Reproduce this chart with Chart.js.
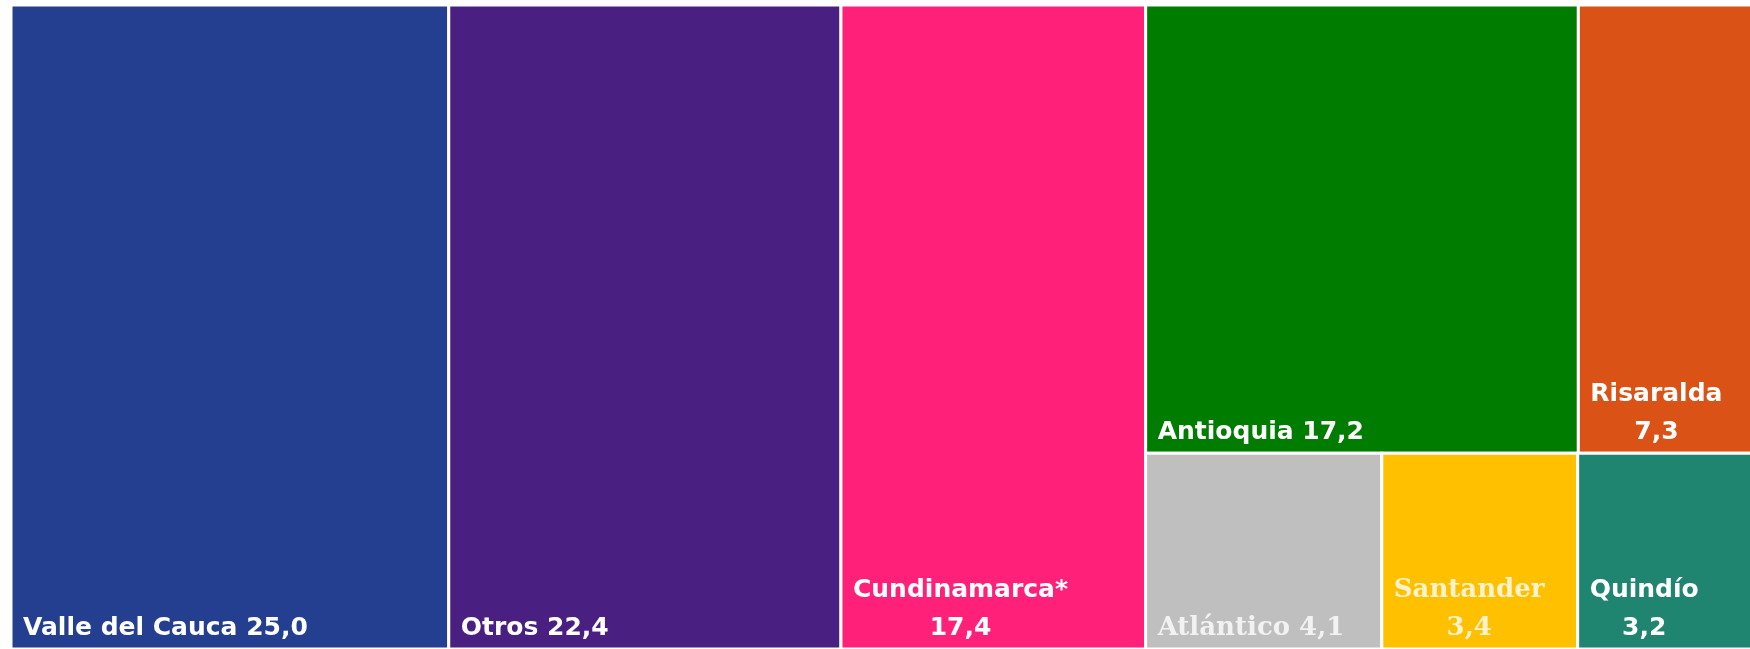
<!DOCTYPE html>
<html>
<head>
<meta charset="utf-8">
<script src="https://cdn.jsdelivr.net/npm/chart.js@4.4.1/dist/chart.umd.min.js"></script>
<style>
  html, body { margin: 0; padding: 0; background: #fff; overflow: hidden; }
  #wrap { width: 1762px; height: 649px; }
</style>
</head>
<body>
<div id="wrap"><canvas id="treemap"></canvas></div>
<script>
const regiones = ["Valle del Cauca", "Otros", "Cundinamarca*", "Antioquia", "Risaralda", "Atlántico", "Santander", "Quindío"];
const valores = [25.0, 22.4, 17.4, 17.2, 7.3, 4.1, 3.4, 3.2];
const colores = ["#243F8F", "#4A1F82", "#FF2079", "#007C00", "#DA5215", "#BFBFBF", "#FFC000", "#1F8470"];
const coloresTexto = ["#fff", "#fff", "#fff", "#fff", "#fff", "#F2F2F2", "#FFF2CC", "#fff"];
// columnas -> filas -> indices de regiones
const bloques = [[[0]], [[1]], [[2]], [[3, 4], [5, 6, 7]]];

const suma = arr => arr.reduce((a, b) => a + b, 0);
const total = suma(valores);

// layout (en unidades de datos 0..100)
let rects = [];
let x = 0;
bloques.forEach(col => {
  const colSum = suma(col.flat().map(i => valores[i]));
  const w = colSum / total * 100;
  let y = 0;
  col.forEach(fila => {
    const filaSum = suma(fila.map(i => valores[i]));
    const h = filaSum / colSum * 100;
    let xx = x;
    fila.forEach(i => {
      const iw = valores[i] / filaSum * w;
      rects.push({ i: i, x0: xx, x1: xx + iw, y0: y, y1: y + h });
      xx += iw;
    });
    y += h;
  });
  x += w;
});

const fmt = v => v.toFixed(1).replace(".", ",");

const treemapPlugin = {
  id: "treemap",
  afterDatasetsDraw(chart) {
    const ctx = chart.ctx;
    const xs = chart.scales.x, ys = chart.scales.y;
    ctx.save();
    rects.forEach(r => {
      const l = xs.getPixelForValue(r.x0), rr = xs.getPixelForValue(r.x1);
      const t = ys.getPixelForValue(r.y0), b = ys.getPixelForValue(r.y1);
      ctx.fillStyle = colores[r.i];
      ctx.fillRect(l, t, rr - l, b - t);
      ctx.strokeStyle = "#fff";
      ctx.lineWidth = 3;
      ctx.strokeRect(l, t, rr - l, b - t);

      const serif = r.i === 5 || r.i === 6;
      ctx.font = serif ? "bold 26px 'DejaVu Serif'" : "bold 25px 'DejaVu Sans'";
      ctx.fillStyle = coloresTexto[r.i];
      ctx.textBaseline = "alphabetic";
      const label = regiones[r.i] + " " + fmt(valores[r.i]);
      const pad = 12;
      const base = b - 14;
      if (ctx.measureText(label).width > (rr - l) - 36) {
        const l1 = regiones[r.i], l2 = fmt(valores[r.i]);
        const w1 = ctx.measureText(l1).width;
        ctx.textAlign = "center";
        ctx.fillText(l1, l + pad + w1 / 2, base - 38);
        ctx.fillText(l2, l + pad + w1 / 2, base);
      } else {
        ctx.textAlign = "left";
        ctx.fillText(label, l + pad, base);
      }
    });
    ctx.restore();
  }
};

new Chart(document.getElementById("treemap"), {
  type: "scatter",
  data: {
    datasets: [{ data: [], pointRadius: 0 }]
  },
  options: {
    responsive: true,
    maintainAspectRatio: false,
    animation: false,
    layout: { padding: { left: 11, top: 5, right: 0, bottom: 0 } },
    plugins: { legend: { display: false }, tooltip: { enabled: false } },
    scales: {
      x: { type: "linear", min: 0, max: 100, display: false },
      y: { type: "linear", min: 0, max: 100, reverse: true, display: false }
    }
  },
  plugins: [treemapPlugin]
});
</script>
</body>
</html>
